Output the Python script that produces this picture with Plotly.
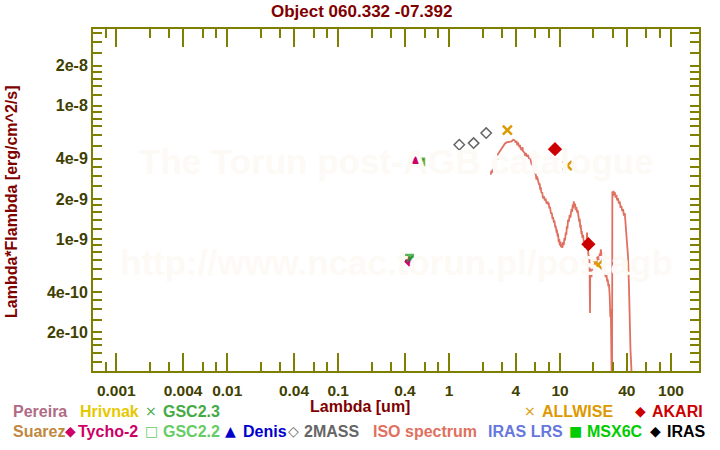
import plotly.graph_objects as go

# ---------------- data ----------------
title_text = "Object 060.332 -07.392"
x_label = "Lambda [um]"
y_label = "Lambda*Flambda [erg/cm^2/s]"

x_tickvals = [0.001, 0.004, 0.01, 0.04, 0.1, 0.4, 1, 4, 10, 40, 100]
x_ticktext = ["0.001", "0.004", "0.01", "0.04", "0.1", "0.4", "1", "4", "10", "40", "100"]
x_minorvals = [0.0008, 0.002, 0.003, 0.006, 0.008, 0.02, 0.03, 0.06, 0.08,
               0.2, 0.3, 0.6, 0.8, 2, 3, 6, 8, 20, 30, 60, 80]

y_tickvals = [2e-10, 4e-10, 1e-9, 2e-9, 4e-9, 1e-8, 2e-8]
y_ticktext = ["2e-10", "4e-10", "1e-9", "2e-9", "4e-9", "1e-8", "2e-8"]
y_minorvals = [1.2e-10, 1.4e-10, 1.6e-10, 1.8e-10, 2.5e-10, 3e-10, 3.5e-10,
               5e-10, 6e-10, 7e-10, 8e-10, 9e-10,
               1.2e-9, 1.4e-9, 1.6e-9, 1.8e-9, 2.5e-9, 3e-9, 3.5e-9,
               5e-9, 6e-9, 7e-9, 8e-9, 9e-9,
               1.2e-8, 1.4e-8, 1.6e-8, 1.8e-8, 2.5e-8, 3e-8, 3.5e-8]

# photometry
tycho_wl = [0.50, 0.437]
tycho_f = [3.82e-9, 6.79e-10]
gsc23_wl = [0.555, 0.443]
gsc23_f = [3.79e-9, 7.12e-10]
gsc22_wl = [0.555, 0.44]
gsc22_f = [3.79e-9, 7.2e-10]
twomass_wl = [1.235, 1.662, 2.159]
twomass_f = [5.10e-9, 5.25e-9, 6.24e-9]
allwise_wl = [3.35, 11.6, 22.0]
allwise_f = [6.57e-9, 3.56e-9, 6.41e-10]
akari_wl = [9.0, 18.0]
akari_f = [4.73e-9, 9.17e-10]

# ISO spectrum
iso_wl = [2.376, 2.40, 2.43, 2.47, 2.53, 2.57, 2.60, 2.67, 2.72, 2.76, 2.86, 2.96,
          3.07, 3.18, 3.29, 3.47, 3.65, 3.78, 3.91, 3.98, 4.05, 4.12, 4.18, 4.29,
          4.35, 4.40, 4.52, 4.58, 4.64, 4.78, 4.85, 4.91, 5.05, 5.12, 5.25, 5.33,
          5.48, 5.56, 5.64, 5.78, 5.85, 5.92, 6.05, 6.12, 6.21, 6.33, 6.47, 6.55,
          6.62, 6.70, 6.80, 6.90, 7.02, 7.15, 7.28, 7.40, 7.55, 7.70, 7.80, 7.90,
          8.0, 8.1, 8.19, 8.30, 8.42, 8.55, 8.65, 8.80, 8.90, 9.05, 9.15, 9.30,
          9.37, 9.50, 9.59, 9.72, 9.83, 9.95, 10.08, 10.2, 10.35, 10.5, 10.64, 10.8,
          10.95, 11.1, 11.25, 11.4, 11.5, 11.65, 11.80, 12.0, 12.2, 12.4, 12.67, 12.85,
          13.0, 13.15, 13.29, 13.45, 13.65, 13.85, 14.05, 14.25, 14.4, 14.6, 14.74, 14.9,
          15.05, 15.2, 15.37, 15.55, 15.7, 15.9, 16.12, 16.35, 16.6, 16.8, 17.04, 17.3,
          17.51, 17.6, 17.88, 18.2, 18.4, 18.63, 18.7, 18.9, 19.18, 19.5, 19.7, 20.0,
          20.4, 20.8, 21.28, 21.7, 22.3, 22.8, 23.0, 23.3, 23.6, 24.0, 24.4, 24.8,
          25.3, 25.8, 26.2, 26.6, 26.9, 27.3, 27.6, 28.0, 28.4, 28.7, 29.0, 29.4,
          29.6, 30.0, 30.3, 30.7, 31.1, 31.6, 32.2, 32.7, 33.3, 33.9, 34.5, 35.1,
          35.7, 36.3, 37.0, 37.6, 38.3, 39.0, 39.7, 40.4, 41.0, 41.8, 42.4, 43.1, 45.9]
iso_f = [3.04e-9, 3.25e-9, 3.15e-9, 3.40e-9, 3.61e-9, 3.55e-9, 3.85e-9, 4.05e-9, 3.95e-9, 4.35e-9, 4.54e-9, 4.80e-9,
         4.95e-9, 5.20e-9, 5.31e-9, 5.35e-9, 5.40e-9, 5.55e-9, 5.49e-9, 5.30e-9, 5.45e-9, 5.05e-9, 5.31e-9, 4.90e-9,
         5.10e-9, 4.80e-9, 4.65e-9, 4.90e-9, 4.55e-9, 4.45e-9, 4.20e-9, 4.42e-9, 4.15e-9, 4.30e-9, 4.00e-9, 4.17e-9,
         3.85e-9, 3.60e-9, 3.70e-9, 3.35e-9, 3.50e-9, 3.13e-9, 3.05e-9, 2.80e-9, 2.95e-9, 2.70e-9, 2.56e-9, 2.62e-9,
         2.35e-9, 2.45e-9, 2.21e-9, 2.25e-9, 2.02e-9, 2.10e-9, 1.95e-9, 2.02e-9, 1.85e-9, 1.92e-9, 1.82e-9, 1.88e-9,
         1.70e-9, 1.75e-9, 1.62e-9, 1.55e-9, 1.58e-9, 1.42e-9, 1.46e-9, 1.33e-9, 1.38e-9, 1.22e-9, 1.26e-9, 1.12e-9,
         1.18e-9, 1.05e-9, 1.10e-9, 9.5e-10, 1.00e-9, 9.0e-10, 9.6e-10, 8.7e-10, 9.2e-10, 8.6e-10, 9.5e-10, 9.0e-10,
         1.02e-9, 9.8e-10, 1.12e-9, 1.08e-9, 1.25e-9, 1.20e-9, 1.40e-9, 1.35e-9, 1.52e-9, 1.45e-9, 1.68e-9, 1.60e-9,
         1.82e-9, 1.70e-9, 1.92e-9, 1.75e-9, 1.85e-9, 1.65e-9, 1.74e-9, 1.58e-9, 1.65e-9, 1.48e-9, 1.55e-9, 1.35e-9,
         1.42e-9, 1.22e-9, 1.28e-9, 1.10e-9, 1.15e-9, 1.02e-9, 1.08e-9, 9.5e-10, 9.8e-10, 8.6e-10, 9.2e-10, 8.8e-10,
         1.12e-9, 8.5e-10, 8.2e-10, 7.0e-10, 7.5e-10, 2.8e-10, 6.0e-10, 5.5e-10, 5.2e-10, 6.0e-10, 5.6e-10, 6.5e-10,
         6.0e-10, 7.0e-10, 6.6e-10, 7.4e-10, 7.0e-10, 7.8e-10, 7.2e-10, 8.4e-10, 7.8e-10, 6.6e-10, 6.2e-10, 5.8e-10,
         5.6e-10, 5.2e-10, 5.4e-10, 4.8e-10, 5.0e-10, 4.4e-10, 4.6e-10, 3.8e-10, 2.6e-10, 3.0e-10, 1.4e-10, 5e-11,
         2.28e-9, 2.10e-9, 2.30e-9, 2.15e-9, 2.25e-9, 2.05e-9, 2.15e-9, 1.95e-9, 2.03e-9, 1.85e-9, 1.92e-9, 1.72e-9,
         1.78e-9, 1.62e-9, 1.68e-9, 1.50e-9, 1.57e-9, 1.30e-9, 1.11e-9, 9.0e-10, 7.4e-10, 4.4e-10, 2.5e-10, 1.5e-10, 5e-11]

# legend entries: (symbol, colour, name, row, symbol_px, text_px)
legend_entries = [
    ("", "#b06b86", "Pereira", 0, None, 11),
    ("", "#e6c800", "Hrivnak", 0, None, 78),
    ("\u00d7", "#44aa44", "GSC2.3", 0, 151, 161),
    ("\u00d7", "#dd9900", "ALLWISE", 0, 530, 540),
    ("\u25c6", "#cc0000", "AKARI", 0, 640, 650),
    ("", "#c08840", "Suarez", 1, None, 11),
    ("\u25c6", "#cc0066", "Tycho-2", 1, 70, 76),
    ("\u25a1", "#66cc66", "GSC2.2", 1, 151, 161),
    ("\u25b2", "#0000cc", "Denis", 1, 230, 241),
    ("\u25c7", "#666666", "2MASS", 1, 293, 302),
    ("", "#e07060", "ISO spectrum", 1, None, 371),
    ("", "#6677dd", "IRAS LRS", 1, None, 486),
    ("\u25a0", "#00cc00", "MSX6C", 1, 575, 585),
    ("\u25c6", "#000000", "IRAS", 1, 655, 665),
]

watermark_1 = "The Torun post-AGB catalogue"
watermark_2 = "http://www.ncac.torun.pl/postagb"

# ---------------- layout constants ----------------
W, H = 720, 450
L, R, T, B = 93, 21, 29, 79
PW, PH = W - L - R, H - T - B
AX = "#808000"
TICKC = "#404000"
FONT = "Liberation Sans, Arial, sans-serif"


def px_x(p):
    return (p - L) / PW


def px_y(p):
    return (H - B - p) / PH


fig = go.Figure()

fig.add_trace(go.Scatter(x=iso_wl, y=iso_f, mode="lines",
                         line=dict(color="#e07060", width=1.8), showlegend=False))
fig.add_trace(go.Scatter(x=twomass_wl, y=twomass_f, mode="markers",
                         marker=dict(symbol="diamond-open", size=8, color="#666666",
                                     line=dict(width=1.5, color="#666666")), showlegend=False))
fig.add_trace(go.Scatter(x=gsc22_wl, y=gsc22_f, mode="markers",
                         marker=dict(symbol="square", size=9, color="#5cb85c"), showlegend=False))
fig.add_trace(go.Scatter(x=tycho_wl, y=tycho_f, mode="markers",
                         marker=dict(symbol="diamond", size=8, color="#cc0066"), showlegend=False))
fig.add_trace(go.Scatter(x=gsc23_wl, y=gsc23_f, mode="markers",
                         marker=dict(symbol="x-thin-open", size=6, color="#2f8f2f",
                                     line=dict(width=1.5, color="#2f8f2f")), showlegend=False))
fig.add_trace(go.Scatter(x=allwise_wl, y=allwise_f, mode="markers",
                         marker=dict(symbol="x-thin-open", size=9, color="#dd9900",
                                     line=dict(width=2.5, color="#dd9900")), showlegend=False))
fig.add_trace(go.Scatter(x=akari_wl, y=akari_f, mode="markers",
                         marker=dict(symbol="diamond", size=11, color="#cc0000"), showlegend=False))

annotations = []
# watermarks
for txt, py in [(watermark_1, 162), (watermark_2, 262)]:
    annotations.append(dict(text=txt, x=0.5, y=px_y(py), xref="paper", yref="paper",
                            showarrow=False, xanchor="center", yanchor="middle",
                            font=dict(family=FONT, size=35, color="#fdfaf6", weight="bold")))
# title & axis titles
annotations.append(dict(text=title_text, x=px_x(361), y=px_y(12), xref="paper", yref="paper",
                        showarrow=False, xanchor="center", yanchor="middle",
                        font=dict(family=FONT, size=17, color="#800000", weight="bold")))
annotations.append(dict(text=x_label, x=px_x(360), y=px_y(406), xref="paper", yref="paper",
                        showarrow=False, xanchor="center", yanchor="middle",
                        font=dict(family=FONT, size=16, color="#800000", weight="bold")))
annotations.append(dict(text=y_label, x=px_x(12), y=px_y(202), xref="paper", yref="paper",
                        showarrow=False, xanchor="center", yanchor="middle", textangle=-90,
                        font=dict(family=FONT, size=16, color="#800000", weight="bold")))
# legend
row_y = [411, 431]
for sym, col, name, row, sx, tx in legend_entries:
    if sym:
        annotations.append(dict(text=sym, x=px_x(sx), y=px_y(row_y[row]), xref="paper", yref="paper",
                                showarrow=False, xanchor="center", yanchor="middle",
                                font=dict(family="DejaVu Sans", size=14, color=col)))
    annotations.append(dict(text=name, x=px_x(tx), y=px_y(row_y[row]), xref="paper", yref="paper",
                            showarrow=False, xanchor="left", yanchor="middle",
                            font=dict(family=FONT, size=16, color=col, weight="bold")))

axis_common = dict(type="log", showline=True, linecolor=AX, linewidth=2, mirror="ticks",
                   ticks="inside", tickcolor=AX, tickwidth=2, showgrid=False, zeroline=False,
                   tickmode="array")

fig.update_layout(
    width=W, height=H,
    margin=dict(l=L, r=R, t=T, b=B, autoexpand=False),
    paper_bgcolor="white", plot_bgcolor="white",
    showlegend=False,
    annotations=annotations,
    xaxis=dict(**axis_common, range=[-3.2097, 2.2523], tickvals=x_tickvals, ticktext=x_ticktext,
               ticklen=18, ticklabelstandoff=4,
               tickfont=dict(family=FONT, size=15.5, color=TICKC, weight="bold"),
               minor=dict(tickmode="array", tickvals=x_minorvals, ticks="inside", ticklen=9,
                          tickcolor=AX, tickwidth=2, showgrid=False)),
    yaxis=dict(**axis_common, range=[-9.988, -7.4246], tickvals=y_tickvals, ticktext=y_ticktext,
               ticklen=9,
               tickfont=dict(family=FONT, size=16, color=TICKC, weight="bold"),
               minor=dict(tickmode="array", tickvals=y_minorvals, ticks="inside", ticklen=9,
                          tickcolor=AX, tickwidth=2, showgrid=False)),
)

fig.write_html("out.html")
